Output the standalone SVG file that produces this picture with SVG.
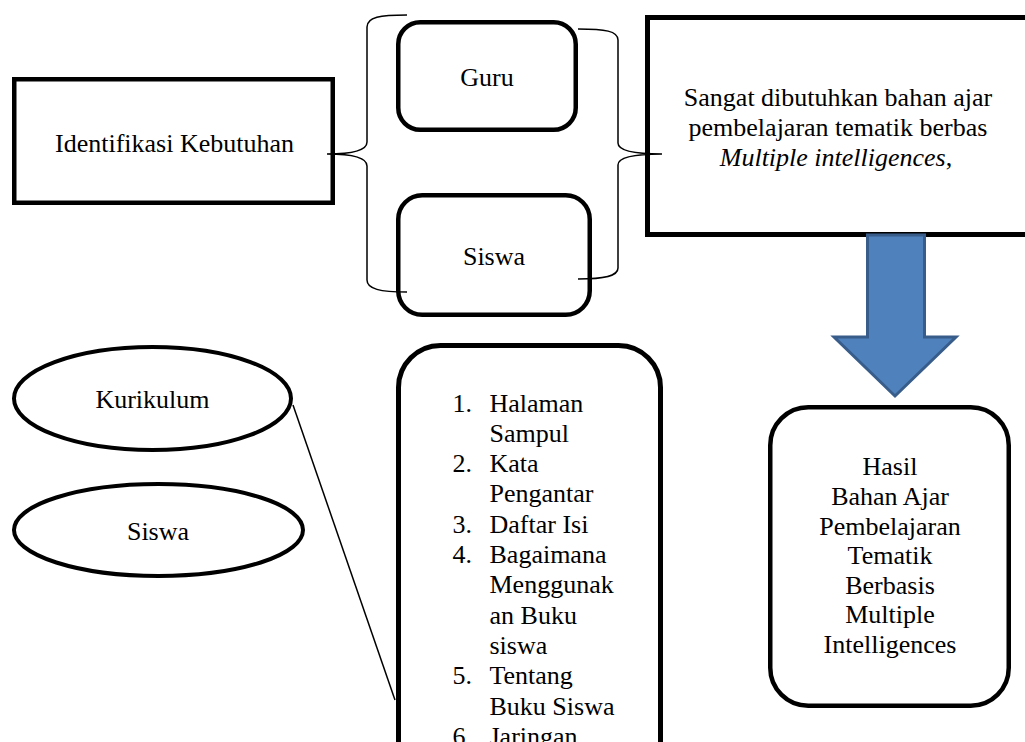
<svg xmlns="http://www.w3.org/2000/svg" width="1025" height="742" viewBox="0 0 1025 742">
<style>
text{font-family:"Liberation Serif","Times New Roman",serif;font-size:26px;fill:#000}
.c{text-anchor:middle}
.box{fill:#fff;stroke:#000;stroke-width:4.5}
.brace{fill:none;stroke:#000;stroke-width:1.5}
</style>
<rect width="1025" height="742" fill="#fff"/>
<g id="identifikasi">
<rect class="box" x="14.25" y="79.25" width="318.5" height="123.5"/>
<text class="c" x="174.5" y="152">Identifikasi Kebutuhan</text>
</g>
<g id="guru">
<rect class="box" x="398.25" y="22.25" width="177.5" height="107.5" rx="22"/>
<text class="c" x="487" y="86">Guru</text>
</g>
<g id="siswa-box">
<rect class="box" x="398.25" y="195.25" width="191.5" height="119.5" rx="24"/>
<text class="c" x="494" y="265">Siswa</text>
</g>
<g id="kebutuhan">
<rect class="box" x="647.5" y="17.5" width="400" height="217" style="stroke-width:5"/>
<text class="c" x="838" y="106">Sangat dibutuhkan bahan ajar</text>
<text class="c" x="838" y="136">pembelajaran tematik berbas</text>
<text class="c" x="836" y="166"><tspan font-style="italic">Multiple intelligences</tspan>,</text>
</g>
<g id="kurikulum">
<ellipse class="box" cx="152.5" cy="398.5" rx="138.5" ry="51.5" style="stroke-width:4"/>
<text class="c" x="152.5" y="408">Kurikulum</text>
</g>
<g id="siswa-ellipse">
<ellipse class="box" cx="158.5" cy="530" rx="144.5" ry="46" style="stroke-width:4"/>
<text class="c" x="158" y="540">Siswa</text>
</g>
<g id="daftar">
<rect class="box" x="398.5" y="345.5" width="262" height="500" rx="42" style="stroke-width:5"/>
<g>
<text x="452.5" y="411.5">1.</text><text x="489.5" y="411.5">Halaman</text>
<text x="489.5" y="441.8">Sampul</text>
<text x="452.5" y="472.1">2.</text><text x="489.5" y="472.1">Kata</text>
<text x="489.5" y="502.4">Pengantar</text>
<text x="452.5" y="532.7">3.</text><text x="489.5" y="532.7">Daftar Isi</text>
<text x="452.5" y="563">4.</text><text x="489.5" y="563">Bagaimana</text>
<text x="489.5" y="593.3">Menggunak</text>
<text x="489.5" y="623.6">an Buku</text>
<text x="489.5" y="653.9">siswa</text>
<text x="452.5" y="684.2">5.</text><text x="489.5" y="684.2">Tentang</text>
<text x="489.5" y="714.5">Buku Siswa</text>
<text x="452.5" y="744.8">6.</text><text x="489.5" y="744.8">Jaringan</text>
</g>
</g>
<g id="hasil">
<rect class="box" x="770.25" y="407.25" width="238.5" height="298.5" rx="38"/>
<text class="c" x="890" y="475">Hasil</text>
<text class="c" x="890" y="505">Bahan Ajar</text>
<text class="c" x="890" y="534.5">Pembelajaran</text>
<text class="c" x="890" y="564">Tematik</text>
<text class="c" x="890" y="593.5">Berbasis</text>
<text class="c" x="890" y="623">Multiple</text>
<text class="c" x="890" y="652.5">Intelligences</text>
</g>
<g id="connectors">
<path class="brace" d="M407,15 C380,15 367,17 367,27 L367,142 C367,150 355,154 327,154 C355,154 367,158 367,166 L367,280 C367,289 380,292 407,292"/>
<path class="brace" d="M578,29 C605,29 618,31 618,40 L618,143 C618,150 630,154 662,154 C630,154 618,158 618,165 L618,268 C618,276 605,279 578,279"/>
<line x1="293" y1="405" x2="395" y2="700" stroke="#000" stroke-width="1.5"/>
<polygon points="867.5,235 924.5,235 924.5,337 956,337 895,396 834,337 867.5,337" fill="#4F81BD" stroke="#385D8A" stroke-width="3"/>
</g>
</svg>
